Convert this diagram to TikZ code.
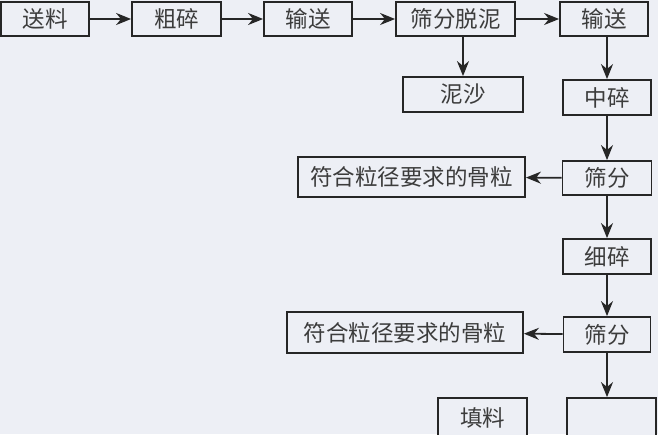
\documentclass[tikz,border=0pt]{standalone}
\usepackage{fontspec}
\newfontfamily\cjk{Noto Sans CJK SC}
\usetikzlibrary{arrows.meta}
\definecolor{paper}{HTML}{EDEFF5}
\definecolor{ink}{HTML}{262626}
\definecolor{txt}{HTML}{3C3C3C}
\begin{document}
\begin{tikzpicture}[x=1pt,y=-1pt,
    box/.style={draw=ink,line width=1.8pt,fill=paper,minimum height=34pt,inner sep=0pt,
        text=txt,font=\cjk\fontsize{22.5}{26}\selectfont},
    arr/.style={draw=ink,line width=1.8pt,-{Stealth[length=15pt,width=12pt]}}]
    \fill[paper] (0,0) rectangle (658,434);
    \useasboundingbox (0,0) rectangle (658,434);

    \node [box,minimum width=88pt](songliao) at (45,19){送料};
    \node [box,minimum width=89pt](cusui) at (176.5,19){粗碎};
    \node [box,minimum width=88pt](shusongA) at (308,19){输送};
    \node [box,minimum width=119pt](tuoni) at (455.5,19){筛分脱泥};
    \node [box,minimum width=88pt](shusongB) at (604,19){输送};
    \node [box,minimum width=120pt,minimum height=35pt](nisha) at (463,94.5){泥沙};
    \node [box,minimum width=88pt,minimum height=35pt](zhongsui) at (607,97.5){中碎};
    \node [box,minimum width=227pt,minimum height=40pt](gulia) at (411.5,177){符合粒径要求的骨粒};
    \node [box,minimum width=89pt](shaifenA) at (607,178){筛分};
    \node [box,minimum width=88pt,minimum height=35pt](xisui) at (607,256.5){细碎};
    \node [box,minimum width=236pt,minimum height=41pt](gulib) at (405,332.5){符合粒径要求的骨粒};
    \node [box,minimum width=87pt,minimum height=35pt](shaifenB) at (607,334.5){筛分};
    \node [box,minimum width=89pt,minimum height=40pt](tianliao) at (482.5,418){填料};
    \node [box,minimum width=89pt,minimum height=40pt](weiliao) at (611.5,418){};

\foreach \a/\b in {songliao/cusui,cusui/shusongA,shusongA/tuoni,tuoni/shusongB}
    \draw[arr] (\a) -- (\b);

    \draw[arr] (tuoni.south -| nisha) -- (nisha.north);
    \draw[arr] (shusongB.south -| zhongsui) -- (zhongsui.north);
    \draw[arr] (zhongsui) -- (shaifenA);
    \draw[arr] (shaifenA) -- (gulia);
    \draw[arr] (shaifenA) -- (xisui);
    \draw[arr] (xisui) -- (shaifenB);
    \draw[arr] (shaifenB) -- (gulib);
    \draw[arr] (shaifenB.south) -- (shaifenB.south |- weiliao.north);
\end{tikzpicture}
\end{document}
